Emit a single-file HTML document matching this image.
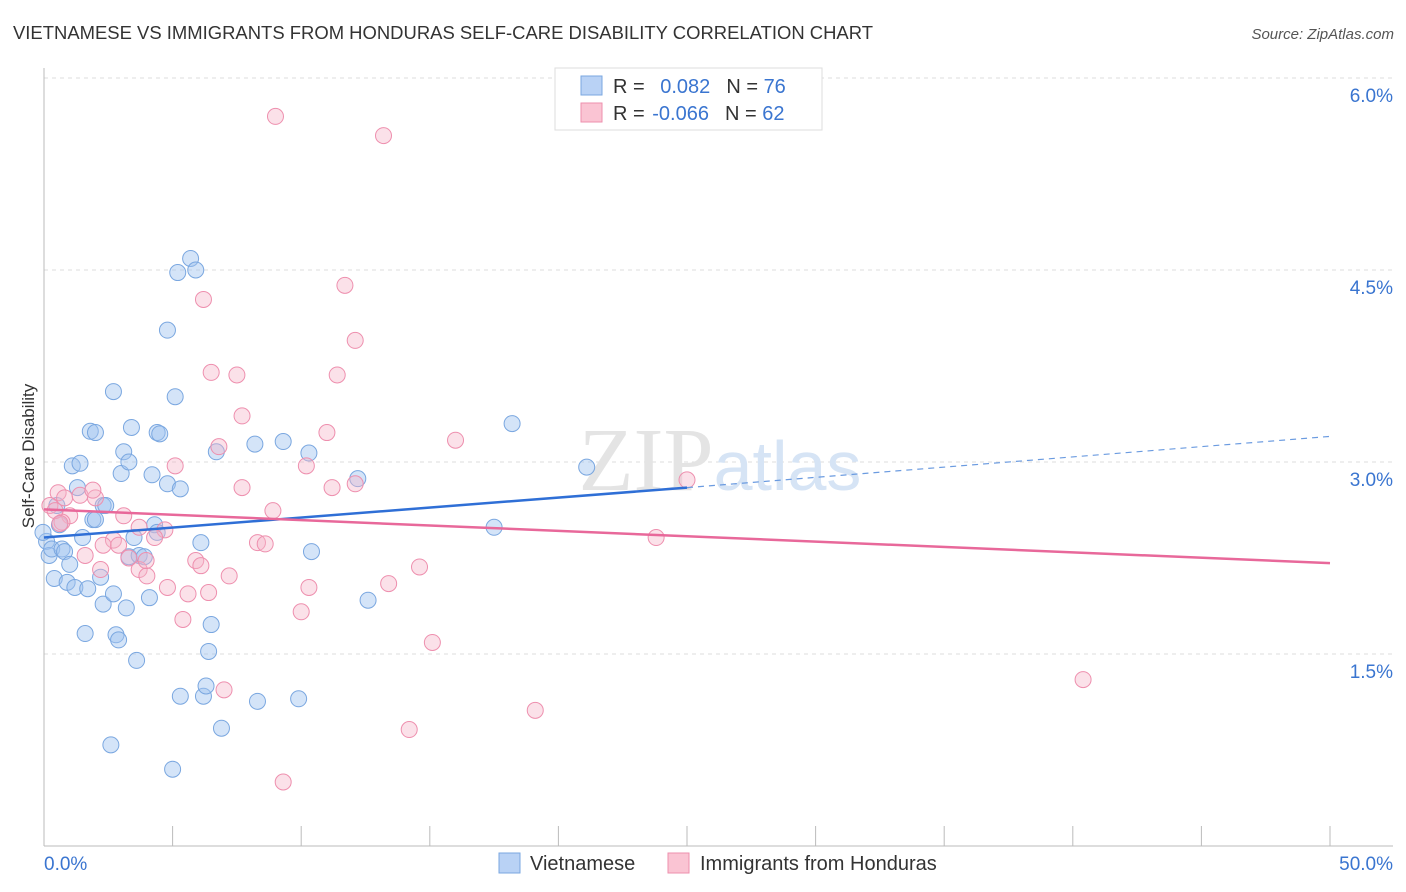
<!DOCTYPE html>
<html><head><meta charset="utf-8"><style>
body{margin:0;background:#fff;font-family:"Liberation Sans",sans-serif}
svg{display:block}
</style></head><body>
<svg id="chart" width="1406" height="892" xmlns="http://www.w3.org/2000/svg">
<text x="13" y="39" font-size="18" fill="#333" textLength="860" lengthAdjust="spacingAndGlyphs">VIETNAMESE VS IMMIGRANTS FROM HONDURAS SELF-CARE DISABILITY CORRELATION CHART</text>
<text x="1394" y="39" font-size="15" fill="#555" font-style="italic" text-anchor="end">Source: ZipAtlas.com</text>
<g id="grid"></g>
<text x="720" y="490" font-size="90" fill="#e4e4e4" text-anchor="middle" font-family="Liberation Serif">ZIP<tspan fill="#d6e4f5" font-family="Liberation Sans" font-size="70">atlas</tspan></text>
<text transform="translate(34,456) rotate(-90)" font-size="17" fill="#333" text-anchor="middle">Self-Care Disability</text>
<g id="marks"></g>
<g>
<rect x="555" y="68" width="267" height="62" fill="#fff" stroke="#ddd"/>
<rect x="581" y="76" width="21" height="19" fill="#b9d2f5" stroke="#7aa7e0"/>
<rect x="581" y="103" width="21" height="19" fill="#fac4d3" stroke="#ee8fae"/>
<text x="613" y="93" font-size="20" fill="#333">R = <tspan fill="#3a75d0" dx="10">0.082</tspan><tspan dx="16" fill="#333">N = </tspan><tspan fill="#3a75d0">76</tspan></text>
<text x="613" y="120" font-size="20" fill="#333">R = <tspan fill="#3a75d0" dx="2">-0.066</tspan><tspan dx="16" fill="#333">N = </tspan><tspan fill="#3a75d0">62</tspan></text>
</g>
<g>
<rect x="499" y="853" width="21" height="20" fill="#b9d2f5" stroke="#7aa7e0"/>
<text x="530" y="870" font-size="20" fill="#333">Vietnamese</text>
<rect x="668" y="853" width="21" height="20" fill="#fac4d3" stroke="#ee8fae"/>
<text x="700" y="870" font-size="20" fill="#333">Immigrants from Honduras</text>
</g>
</svg>
<script>
const blueX=[0.1,0.2,0.3,0.4,0.5,0.6,0.7,0.8,0.9,1.0,1.1,1.2,1.3,1.4,1.5,1.6,1.7,1.8,1.9,2.0,2.0,2.2,2.3,2.3,2.4,2.6,2.7,2.7,2.8,2.9,3.0,3.1,3.2,3.3,3.3,3.4,3.5,3.6,3.7,3.9,4.1,4.2,4.3,4.4,4.4,4.5,4.8,4.8,5.0,5.1,5.2,5.3,5.3,5.7,5.9,6.1,6.2,6.3,6.4,6.5,6.7,6.9,8.2,8.3,9.3,9.9,10.3,10.4,12.2,12.6,17.5,18.2,21.1,-0.04];
const blueY=[2.38,2.27,2.32,2.09,2.66,2.51,2.32,2.30,2.06,2.20,2.97,2.02,2.80,2.99,2.41,1.66,2.01,3.24,2.55,3.23,2.55,2.10,2.66,1.89,2.66,0.79,3.55,1.97,1.65,1.61,2.91,3.08,1.86,2.26,3.00,3.27,2.41,1.45,2.27,2.26,1.94,2.90,2.51,3.23,2.45,3.22,2.83,4.03,0.60,3.51,4.48,1.17,2.79,4.59,4.50,2.37,1.17,1.25,1.52,1.73,3.08,0.92,3.14,1.13,3.16,1.15,3.07,2.30,2.87,1.92,2.49,3.30,2.96,2.45];
const pinkX=[9.0,13.2,11.7,6.2,12.1,6.5,7.5,11.4,7.7,6.8,11.0,16.0,5.1,10.2,0.55,2.0,1.4,7.7,11.2,12.1,25.0,8.9,3.1,1.0,0.7,0.8,1.9,3.7,4.7,4.3,2.7,2.3,8.3,8.6,3.3,1.6,5.9,6.1,14.6,3.7,4.0,7.2,4.8,5.6,6.4,10.3,13.4,5.4,10.0,15.1,23.8,40.4,7.0,19.1,14.2,9.3,0.23,0.43,2.2,3.97,0.62,2.9];
const pinkY=[5.70,5.55,4.38,4.27,3.95,3.70,3.68,3.68,3.36,3.12,3.23,3.17,2.97,2.97,2.76,2.72,2.74,2.80,2.80,2.83,2.86,2.62,2.58,2.58,2.53,2.72,2.78,2.49,2.47,2.41,2.39,2.35,2.37,2.36,2.25,2.27,2.23,2.19,2.18,2.16,2.11,2.11,2.02,1.97,1.98,2.02,2.05,1.77,1.83,1.59,2.41,1.30,1.22,1.06,0.91,0.50,2.66,2.62,2.16,2.23,2.52,2.35];
const yTicks=[1.5,3.0,4.5,6.0];
const xTicks=[0,5,10,15,20,25,30,35,40,45,50];
const blueTrend=[2.41,2.80,3.20];
const pinkTrend=[2.63,2.21];
const NS="http://www.w3.org/2000/svg";
function sx(v){return 44+v/50*1286;}
function sy(v){return 846-v*128;}
function mk(tag,attrs,parent){const e=document.createElementNS(NS,tag);for(const k in attrs)e.setAttribute(k,attrs[k]);parent.appendChild(e);return e;}
const grid=document.getElementById('grid'),marks=document.getElementById('marks');
yTicks.forEach(t=>{
 const l=mk('line',{x1:44,x2:1393,y1:sy(t),y2:sy(t),stroke:'#ddd','stroke-dasharray':'4,4'},grid);
 
 
 const tx=mk('text',{x:1393,y:sy(t)+24,'font-size':19,fill:'#3a75d0','text-anchor':'end'},grid);
 tx.textContent=t.toFixed(1)+'%';
 
 
});
const ax=mk('line',{x1:44,x2:44,y1:68,y2:846,stroke:'#bbb'},grid);


const bx=mk('line',{x1:44,x2:1393,y1:846,y2:846,stroke:'#bbb'},grid);


xTicks.forEach(t=>{
 const l=mk('line',{x1:sx(t),x2:sx(t),y1:826,y2:846,stroke:'#bbb'},grid);
 
 
});
[[0,'start'],[50,'end']].forEach(([t,a])=>{
 const tx=mk('text',{x:t===0?44:1393,y:870,'font-size':19,fill:'#3a75d0','text-anchor':a},grid);
 tx.textContent=t.toFixed(1)+'%';
 
 
});
blueX.forEach((x,i)=>{
 const c=mk('circle',{cx:sx(x),cy:sy(blueY[i]),r:8,fill:'rgba(160,195,240,0.45)',stroke:'#7aa7e0','stroke-width':1},marks);
 
 
});
pinkX.forEach((x,i)=>{
 const c=mk('circle',{cx:sx(x),cy:sy(pinkY[i]),r:8,fill:'rgba(245,180,200,0.4)',stroke:'#ee8fae','stroke-width':1},marks);
 
 
});
const b1=mk('line',{x1:sx(0),y1:sy(blueTrend[0]),x2:sx(25),y2:sy(blueTrend[1]),stroke:'#2f6fd6','stroke-width':2.5},marks);


const b2=mk('line',{x1:sx(25),y1:sy(blueTrend[1]),x2:sx(50),y2:sy(blueTrend[2]),stroke:'#6b9be0','stroke-width':1.2,'stroke-dasharray':'6,5'},marks);


const p1=mk('line',{x1:sx(0),y1:sy(pinkTrend[0]),x2:sx(50),y2:sy(pinkTrend[1]),stroke:'#e8689a','stroke-width':2.5},marks);


</script>
</body></html>
